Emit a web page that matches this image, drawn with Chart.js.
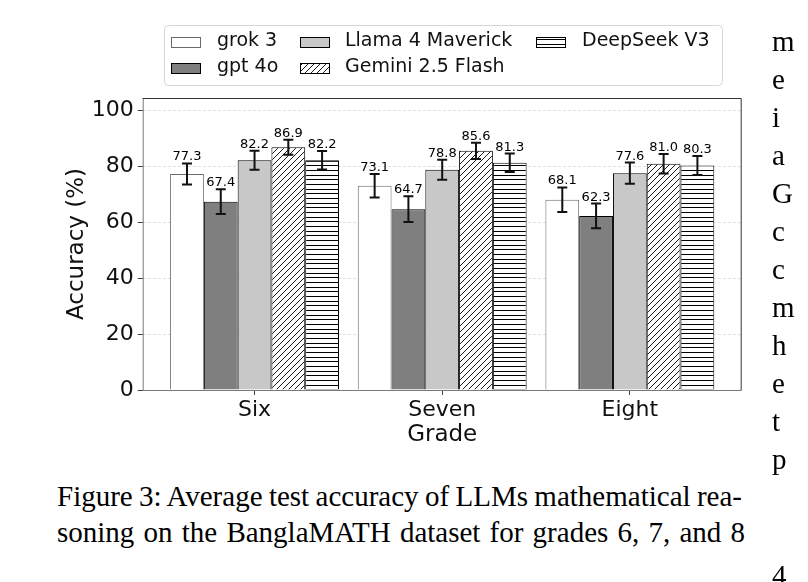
<!DOCTYPE html>
<html lang="en">
<head>
  <meta charset="UTF-8">
  <title>BanglaMATH accuracy by grade</title>
  <script src="https://cdn.jsdelivr.net/npm/chart.js"></script>
  <style>
    body { margin: 0; background: #fff; width: 808px; height: 582px; overflow: hidden; position: relative; }
    #wrap { position: absolute; left: 0; top: 0; width: 808px; height: 470px; }
    .cap { position: absolute; left: 57px; display: inline-block; white-space: nowrap;
           font-family: "Liberation Serif", "Times New Roman", serif; font-size: 29px; line-height: 36px; color: #000; }
    .side { position: absolute; left: 772px; top: 22px; width: 60px;
            font-family: "Liberation Serif", "Times New Roman", serif; font-size: 29px; line-height: 38px; color: #000; }
  </style>
</head>
<body>
  <div id="wrap"><canvas id="accChart"></canvas></div>

  <span class="cap" style="top:478px" data-w="685">Figure 3: Average test accuracy of LLMs mathematical rea-</span>
  <span class="cap" style="top:514px" data-w="688">soning on the BanglaMATH dataset for grades 6, 7, and 8</span>

  <div class="side" id="side"></div>
  <div class="side" style="top:556px">4</div>

  <script>
    // chart data
    const grades = ['Six', 'Seven', 'Eight'];
    const models = ['grok 3', 'gpt 4o', 'Llama 4 Maverick', 'Gemini 2.5 Flash', 'DeepSeek V3'];
    const grok3 = [77.3, 73.1, 68.1];
    const gpt4o = [67.4, 64.7, 62.3];
    const llama4 = [82.2, 78.8, 77.6];
    const gemini25 = [86.9, 85.6, 81.0];
    const deepseekV3 = [82.2, 81.3, 80.3];
    const grok3Err = [3.8, 4.2, 4.4];
    const gpt4oErr = [4.4, 4.6, 4.4];
    const llama4Err = [3.4, 3.6, 3.8];
    const gemini25Err = [2.7, 2.9, 3.5];
    const deepseekV3Err = [3.3, 3.3, 3.4];
    const yTicks = [0, 20, 40, 60, 80, 100];

    // letters of the neighbouring text column, cut by the page edge
    const sideLetters = ['m', 'e', 'i', 'a', 'G', 'c', 'c', 'm', 'h', 'e', 't', 'p'];
    document.getElementById('side').innerHTML = sideLetters.join('<br>');

    // stretch caption lines to their justified width
    document.querySelectorAll('.cap').forEach(el => {
      const natural = el.getBoundingClientRect().width;
      const spaces = (el.textContent.match(/ /g) || []).length;
      el.style.wordSpacing = ((+el.dataset.w - natural) / spaces) + 'px';
    });

    // hatch fills
    function diagonalHatch() {
      const c = document.createElement('canvas');
      c.width = 6; c.height = 6;
      const g = c.getContext('2d');
      g.fillStyle = '#fff';
      g.fillRect(0, 0, 6, 6);
      g.strokeStyle = '#000';
      g.lineWidth = 0.9;
      g.beginPath();
      g.moveTo(0, 6); g.lineTo(6, 0);
      g.moveTo(-1, 1); g.lineTo(1, -1);
      g.moveTo(5, 7); g.lineTo(7, 5);
      g.stroke();
      return g.createPattern(c, 'repeat');
    }
    function horizontalHatch() {
      const c = document.createElement('canvas');
      c.width = 8; c.height = 14;
      const g = c.getContext('2d');
      g.fillStyle = '#fff';
      g.fillRect(0, 0, 8, 14);
      g.strokeStyle = '#000';
      g.lineWidth = 1;
      g.beginPath();
      [2.5, 7.5, 11.5].forEach(y => { g.moveTo(0, y); g.lineTo(8, y); });
      g.stroke();
      return g.createPattern(c, 'repeat');
    }

    const fills = ['#ffffff', '#7f7f7f', '#c8c8c8', diagonalHatch(), horizontalHatch()];
    const edges = ['#6a6a6a', '#000', '#000', '#000', '#000'];
    const series = [grok3, gpt4o, llama4, gemini25, deepseekV3];
    const errors = [grok3Err, gpt4oErr, llama4Err, gemini25Err, deepseekV3Err];

    const datasets = models.map((name, k) => ({
      label: name,
      data: series[k].map((v, i) => ({ x: i, y: v })),
      errors: errors[k],
      backgroundColor: fills[k],
      borderColor: edges[k],
      borderWidth: 1,
      categoryPercentage: 0.9,
      barPercentage: 1.0
    }));

    // box around the plot, error bars and value labels
    const barExtras = {
      id: 'barExtras',
      afterDatasetsDraw(chart) {
        const { ctx, chartArea: a, scales: { y } } = chart;
        ctx.save();
        ctx.lineWidth = 1;
        ctx.strokeStyle = '#7a7a7a';
        ctx.beginPath();
        ctx.moveTo(a.left + 0.5, a.top);
        ctx.lineTo(a.left + 0.5, a.bottom + 0.5);
        ctx.lineTo(a.right, a.bottom + 0.5);
        ctx.stroke();
        ctx.strokeStyle = '#333';
        ctx.beginPath();
        ctx.moveTo(a.left, a.top + 0.5);
        ctx.lineTo(a.right - 0.5, a.top + 0.5);
        ctx.lineTo(a.right - 0.5, a.bottom);
        ctx.stroke();

        chart.data.datasets.forEach((ds, di) => {
          chart.getDatasetMeta(di).data.forEach((bar, i) => {
            const v = ds.data[i].y, e = ds.errors[i];
            const top = y.getPixelForValue(v + e);
            const bot = y.getPixelForValue(v - e);
            ctx.strokeStyle = '#111';
            ctx.lineWidth = 2;
            ctx.beginPath();
            ctx.moveTo(bar.x, top); ctx.lineTo(bar.x, bot);
            ctx.moveTo(bar.x - 5, top); ctx.lineTo(bar.x + 5, top);
            ctx.moveTo(bar.x - 5, bot); ctx.lineTo(bar.x + 5, bot);
            ctx.stroke();
            ctx.fillStyle = '#000';
            ctx.font = '13px "DejaVu Sans"';
            ctx.textAlign = 'center';
            ctx.textBaseline = 'alphabetic';
            ctx.fillText(v.toFixed(1), bar.x, top - 3);
          });
        });
        ctx.restore();
      }
    };

    // matplotlib-style legend: 3 columns, filled column by column
    const legendBox = {
      id: 'legendBox',
      afterDraw(chart) {
        const ctx = chart.ctx;
        const cols = [[0, 1], [2, 3], [4]];
        const patchX = [171, 300, 536];
        const textX = [217, 345, 582];
        const rowY = [41.5, 67.5];
        ctx.save();
        ctx.fillStyle = 'rgba(255,255,255,0.8)';
        ctx.strokeStyle = '#d6d6d6';
        ctx.lineWidth = 1;
        ctx.beginPath();
        ctx.roundRect(164.5, 25.5, 558, 60, 4);
        ctx.fill();
        ctx.stroke();
        ctx.font = '19px "DejaVu Sans"';
        ctx.textBaseline = 'middle';
        ctx.textAlign = 'left';
        cols.forEach((col, c) => {
          col.forEach((di, r) => {
            const ds = chart.data.datasets[di];
            const py = Math.round(rowY[r] - 5) + 0.5;
            ctx.fillStyle = ds.backgroundColor;
            ctx.fillRect(patchX[c], py, 30, 10);
            ctx.strokeStyle = ds.borderColor;
            ctx.strokeRect(patchX[c] + 0.5, py, 29, 10);
            ctx.fillStyle = '#111';
            ctx.fillText(ds.label, textX[c], rowY[r]);
          });
        });
        ctx.restore();
      }
    };

    new Chart(document.getElementById('accChart'), {
      type: 'bar',
      data: { datasets },
      plugins: [barExtras, legendBox],
      options: {
        responsive: true,
        maintainAspectRatio: false,
        animation: false,
        devicePixelRatio: 1,
        layout: { padding: { top: 98, right: 66.3, left: 0, bottom: 0 } },
        plugins: { legend: { display: false }, tooltip: { enabled: false } },
        scales: {
          x: {
            type: 'linear',
            bounds: 'data',
            offset: false,
            min: -0.596,
            max: 2.596,
            afterBuildTicks: axis => { axis.ticks = grades.map((g, i) => ({ value: i })); },
            afterFit: s => { s.height = 80; },
            ticks: {
              callback: v => grades[v],
              font: { family: 'DejaVu Sans', size: 22 },
              color: '#111',
              padding: 2,
              maxRotation: 0,
              autoSkip: false
            },
            grid: { offset: false, drawOnChartArea: false, tickColor: '#444', tickLength: 5 },
            border: { display: false },
            title: {
              display: true,
              text: 'Grade',
              font: { family: 'DejaVu Sans', size: 23 },
              color: '#111',
              padding: { top: 0, bottom: 21 }
            }
          },
          y: {
            bounds: 'data',
            min: 0,
            max: 104.5,
            afterBuildTicks: axis => { axis.ticks = yTicks.map(v => ({ value: v })); },
            afterFit: s => { s.width = 142.7; },
            ticks: { font: { family: 'DejaVu Sans', size: 22 }, color: '#111', padding: 4 },
            grid: { color: 'rgba(0,0,0,0.12)', tickColor: '#444', tickLength: 5 },
            border: { display: false, dash: [3, 2] },
            title: {
              display: true,
              text: 'Accuracy (%)',
              font: { family: 'DejaVu Sans', size: 23 },
              color: '#111',
              padding: { top: 63, bottom: 0 }
            }
          }
        }
      }
    });
  </script>
</body>
</html>
